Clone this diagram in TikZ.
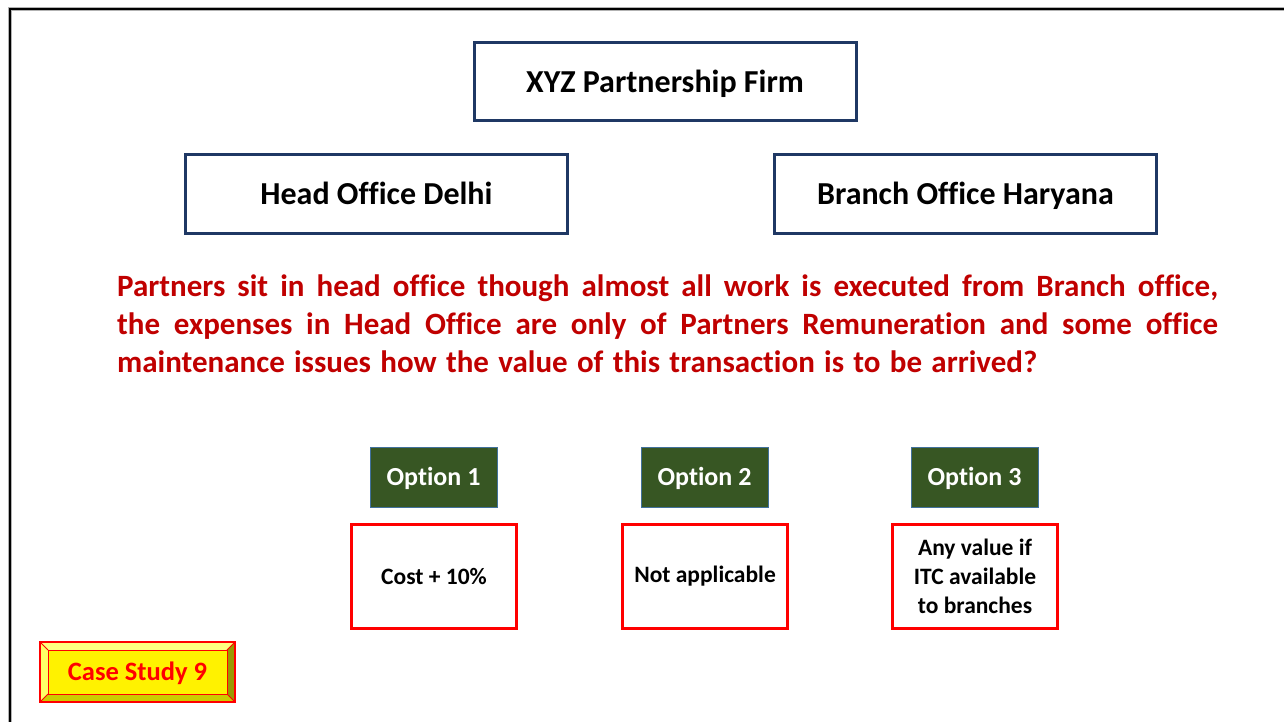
\documentclass[tikz,border=0pt]{standalone}
\usepackage{fontspec}
\setmainfont{Carlito}[Ligatures=NoCommon]
\begin{document}
\begin{tikzpicture}[x=1pt,y=-1pt,
  firmbox/.style={draw=navy,line width=3pt,fill=white,minimum width=382pt,minimum height=78pt,inner sep=0pt,
    text height=27pt,text depth=6.5pt,font=\bfseries\fontsize{32}{38}\selectfont},
  optbox/.style={draw=optedge,line width=1pt,fill=optgreen,text=white,minimum width=127pt,minimum height=60pt,inner sep=0pt,
    text height=22pt,text depth=5.6pt,font=\bfseries\fontsize{26}{30}\selectfont},
  ansbox/.style={draw=red,line width=3.5pt,fill=white,minimum width=165pt,minimum height=104pt,inner sep=0pt,align=center,
    font=\bfseries\fontsize{23.5}{29}\selectfont}]
\definecolor{navy}{HTML}{1F3864}
\definecolor{optgreen}{HTML}{375623}
\definecolor{optedge}{HTML}{41719C}
\definecolor{darkred}{HTML}{C00000}
\definecolor{bevtop}{HTML}{FFFF80}
\definecolor{bevleft}{HTML}{FFFF66}
\definecolor{bevright}{HTML}{999900}
\definecolor{bevbot}{HTML}{CCCC00}
\useasboundingbox (0,0) rectangle (1284,722);
\fill[white] (0,0) rectangle (1284,722);
% frame lines on the top and left edges
\draw[line width=4pt,gray!60] (10,722) -- (10,9) -- (1284,9);
\draw[line width=2.5pt,black] (10,722) -- (10,9) -- (1284,9);

% organisation boxes
\node[firmbox] (firm) at (665,82) {XYZ Partnership Firm};
\node[firmbox] (ho) at (376.5,194) {Head Office Delhi};
\node[firmbox] (bo) at (965.5,194) {Branch Office Haryana};

% question
\node[anchor=north west,inner sep=0pt,text width=1101pt,align=justify,text=darkred,
  font=\bfseries\fontsize{31}{38}\selectfont] (question) at (117,272)
  {\hyphenpenalty=10000\spaceskip=0.3em plus 0.6em minus 0.05em
   \rule{0pt}{24pt}Partners sit in head office though almost all work is executed from Branch office,\linebreak
   the expenses in Head Office are only of Partners Remuneration and some office\linebreak
   maintenance issues how the value of this transaction is to be arrived?};

% options
\node[optbox] (o1) at (433.5,477) {Option 1};
\node[optbox] (o2) at (704.5,477) {Option 2};
\node[optbox] (o3) at (974.5,477) {Option 3};
\node[ansbox] (a1) at (434,576.5) {Cost + 10\%};
\node[ansbox] (a2) at (705,576.5) {Not applicable};
\node[ansbox] (a3) at (975,576.5) {Any value if\\ITC available\\to branches};

% bevelled label
\fill[bevtop] (40,642) -- (235,642) -- (227,650) -- (48,650) -- cycle;
\fill[bevleft] (40,642) -- (48,650) -- (48,694) -- (40,702) -- cycle;
\fill[bevright] (235,642) -- (235,702) -- (227,694) -- (227,650) -- cycle;
\fill[bevbot] (40,702) -- (48,694) -- (227,694) -- (235,702) -- cycle;
\draw[red,line width=0.8pt] (48,650) -- (40,642) (227,650) -- (235,642) (48,694) -- (40,702) (227,694) -- (235,702);
\node[draw=red,line width=1pt,fill=yellow,minimum width=179pt,minimum height=44pt,inner sep=0pt,
  text height=22.5pt,text depth=5.7pt,text=red,font=\bfseries\fontsize{26.5}{30}\selectfont] (case) at (137.5,672) {Case Study 9};
\draw[red,line width=1.2pt] (40,642) rectangle (235,702);
\end{tikzpicture}
\end{document}
